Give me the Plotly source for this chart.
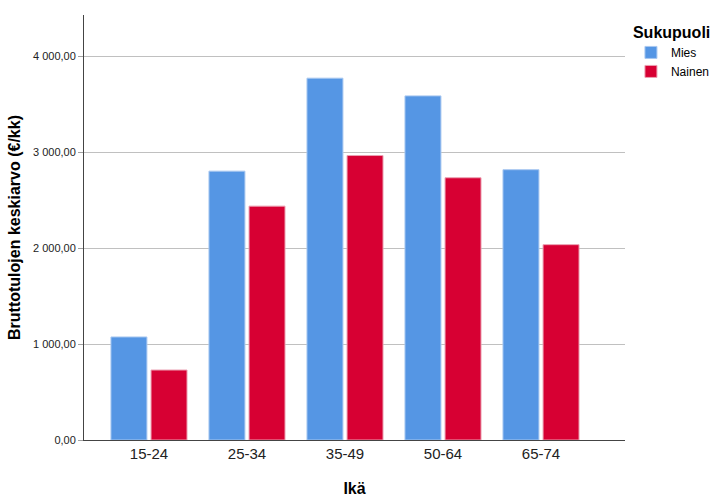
import plotly.graph_objects as go

categories = ["15-24", "25-34", "35-49", "50-64", "65-74"]
mies = [1075, 2805, 3775, 3590, 2820]
nainen = [730, 2440, 2968, 2736, 2038]
tick_values = [0, 1000, 2000, 3000, 4000]
tick_labels = ["0,00", "1 000,00", "2 000,00", "3 000,00", "4 000,00"]

xpos = list(range(len(categories)))

fig = go.Figure()
fig.add_trace(go.Bar(
    x=xpos, y=mies, name="Mies",
    marker=dict(color="#5596E4", line=dict(color="#A9C8F0", width=1)),
    width=0.367, offset=-0.388,
))
fig.add_trace(go.Bar(
    x=xpos, y=nainen, name="Nainen",
    marker=dict(color="#D70033", line=dict(color="#EBA0B2", width=1)),
    width=0.367, offset=0.021,
))

fig.update_layout(
    width=718, height=502,
    margin=dict(l=84, r=93, t=15, b=62, autoexpand=False),
    paper_bgcolor="white", plot_bgcolor="white",
    font=dict(family="Liberation Sans, Arial, sans-serif", color="#000000"),
    barmode="overlay",
    showlegend=True,
    legend=dict(
        title=dict(text="<b>Sukupuoli</b>", font=dict(size=16)),
        x=1.011, xanchor="left", y=0.995, yanchor="top",
        font=dict(size=12), itemwidth=30, tracegroupgap=0,
        bgcolor="rgba(0,0,0,0)",
    ),
    xaxis=dict(
        tickmode="array", tickvals=xpos, ticktext=categories,
        range=[-0.663, 4.857], automargin=False,
        showline=True, linecolor="#444444", linewidth=1,
        showgrid=False, zeroline=False,
        ticks="", tickfont=dict(size=15, color="#222222"),
        title=dict(text="<b>Ikä</b>", font=dict(size=16), standoff=21),
    ),
    yaxis=dict(
        tickmode="array", tickvals=tick_values, ticktext=tick_labels,
        range=[0, 4434], automargin=False,
        showline=True, linecolor="#444444", linewidth=1,
        showgrid=True, gridcolor="#C0C0C0", gridwidth=1,
        zeroline=False,
        ticks="outside", ticklen=5, tickcolor="#A0A0A0",
        tickfont=dict(size=11, color="#222222"),
        title=dict(text="<b>Bruttotulojen keskiarvo (€/kk)</b>", font=dict(size=16), standoff=8),
    ),
)

fig.write_html("out.html", config={"displayModeBar": False},
               post_script="document.body.style.margin='0';")
